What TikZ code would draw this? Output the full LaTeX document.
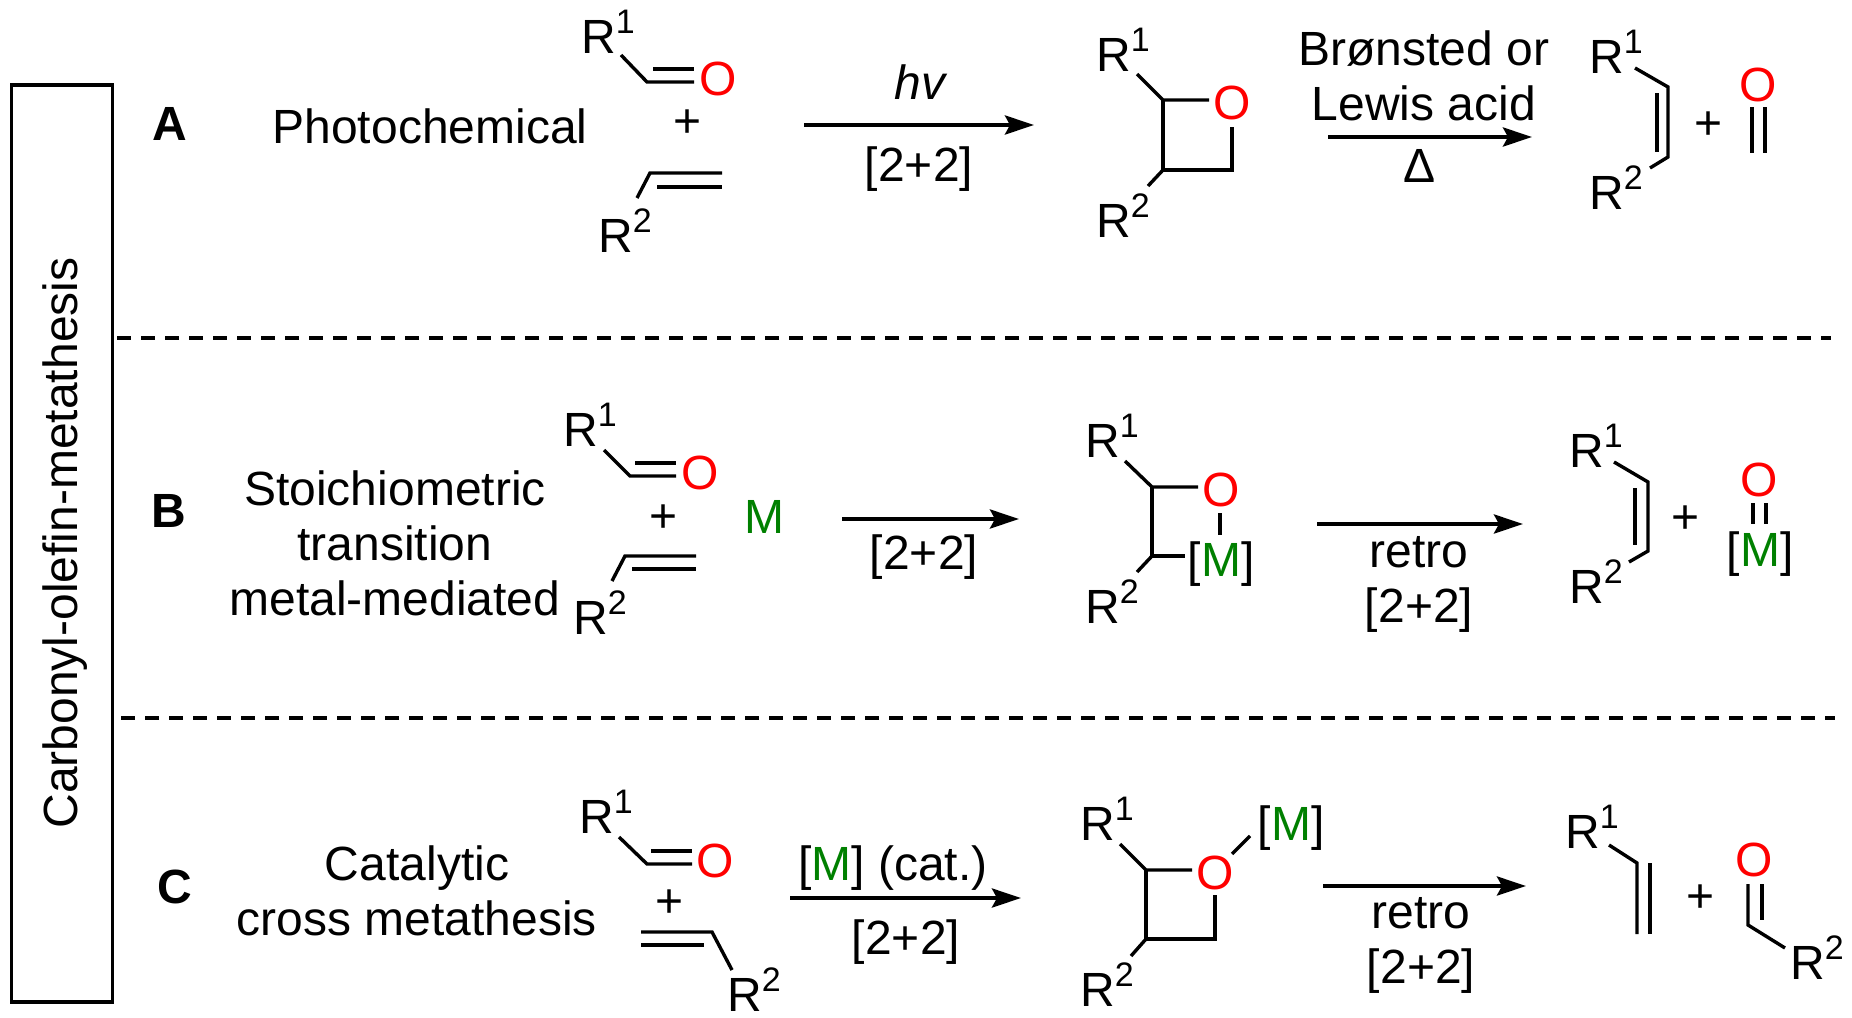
\documentclass[tikz,border=0pt]{standalone}
\usepackage{fontspec}
\setmainfont{Liberation Sans}
\usetikzlibrary{arrows.meta}
\definecolor{oxred}{RGB}{255,0,0}
\definecolor{mgreen}{RGB}{0,128,0}
\newcommand{\Rg}[1]{R\raisebox{19.5pt}{\fontsize{34}{34}\selectfont #1}}
\newcommand{\Mg}{{[}\textcolor{mgreen}{M}{]}}
\newcommand{\cyc}{{[}2+2{]}}

\begin{document}
\begin{tikzpicture}[
    x=1pt, y=-1pt,
    every node/.style = {inner sep=0pt,
                         font=\fontsize{48}{55}\selectfont},
    txt/.style        = {align=center},
    lab/.style        = {anchor=base},
    rgrp/.style       = {anchor=base west},
    oxy/.style        = {text=oxred},
    tag/.style        = {font=\fontsize{48}{55}\selectfont\bfseries},
    bond/.style       = {line width=3.4pt,
                         line join=miter},
    arr/.style        = {line width=4pt,
                         -{Stealth[length=29pt,width=19pt,inset=5pt]}},
    sep/.style        = {line width=3.2pt,
                         dash pattern=on 14pt off 10pt}
]
\useasboundingbox (0,0) rectangle (1852,1017);

\node (frame) [draw, line width=3.6pt, minimum width=101pt, minimum height=917pt, anchor=north west] at (9.5,83) {};
\node (title) [lab, rotate=90] at (77,543) {Carbonyl-olefin-metathesis};

\coordinate (s1l) at (117,338); \coordinate (s1r) at (1831,338);
\coordinate (s2l) at (121,718); \coordinate (s2r) at (1835,718);
\draw[sep] (s1l) -- (s1r);
\draw[sep] (s2l) -- (s2r);

% row A
\node (atag) [tag] at (170,124) {A};
\node (aname) at (430,126) {Photochemical};
\node (ar1) [rgrp] at (581,53) {\Rg{1}};
\node (ao) [oxy] at (718,79) {O};
\node (aplus) at (688,124) {+};
\node (ar2) [rgrp] at (598,252) {\Rg{2}};
\coordinate (aa) at (621,55); \coordinate (ab) at (647,82); \coordinate (ac) at (694,82);
\coordinate (ad) at (653,69); \coordinate (ae) at (694,69);
\draw[bond] (aa) -- (ab) -- (ac);
\draw[bond] (ad) -- (ae);
\coordinate (af) at (637,198); \coordinate (ag) at (650,173); \coordinate (ah) at (722,173);
\coordinate (ai) at (657,187); \coordinate (aj) at (722,187);
\draw[bond] (af) -- (ag) -- (ah);
\draw[bond] (ai) -- (aj);

\coordinate (ax1) at (804,125); \coordinate (ax2) at (1034,125);
\draw[arr] (ax1) -- (ax2);
\node (ahv) [lab] at (921,99) {\textit{hv}};
\node (acy) [lab] at (919,181) {\cyc};

\node (ar3) [rgrp] at (1096,71) {\Rg{1}};
\node (ar4) [rgrp] at (1096,237) {\Rg{2}};
\node (ao2) [oxy] at (1232,103) {O};
\coordinate (ak) at (1137,74); \coordinate (al) at (1163,100); \coordinate (am) at (1209,100);
\coordinate (an) at (1163,170); \coordinate (ap) at (1232,170); \coordinate (aq) at (1232,127);
\coordinate (ar) at (1148,186);
\draw[bond] (ak) -- (al) -- (am);
\draw[bond] (al) -- (an) -- (ap) -- (aq);
\draw[bond] (an) -- (ar);

\node (acid) [txt] at (1424,76) {Brønsted or\\Lewis acid};
\coordinate (ay1) at (1328,137); \coordinate (ay2) at (1532,137);
\draw[arr] (ay1) -- (ay2);
\node (aheat) [lab] at (1420,182) {Δ};

\node (ar5) [rgrp] at (1589,73) {\Rg{1}};
\node (ar6) [rgrp] at (1589,209) {\Rg{2}};
\coordinate (as) at (1635,68); \coordinate (at) at (1668,87); \coordinate (au) at (1668,157);
\coordinate (av) at (1650,168); \coordinate (aw) at (1657,93); \coordinate (az) at (1657,152);
\draw[bond] (as) -- (at) -- (au) -- (av);
\draw[bond] (aw) -- (az);
\node (aplus2) at (1708,126) {+};
\node (ao3) [oxy] at (1758,85) {O};
\coordinate (ba1) at (1752,107); \coordinate (ba2) at (1752,153);
\coordinate (ba3) at (1765,107); \coordinate (ba4) at (1765,153);
\draw[bond] (ba1) -- (ba2);
\draw[bond] (ba3) -- (ba4);

% row B
\node (btag) [tag] at (169,511) {B};
\node (bname) [txt] at (395,543) {Stoichiometric\\transition\\metal-mediated};
\node (br1) [rgrp] at (563,446) {\Rg{1}};
\node (bo) [oxy] at (700,473) {O};
\node (bplus) at (664,519) {+};
\node (bm) [lab, text=mgreen] at (764,533) {M};
\node (br2) [rgrp] at (573,634) {\Rg{2}};
\coordinate (bb) at (604,450); \coordinate (bc) at (630,476); \coordinate (bd) at (676,476);
\coordinate (be) at (635,463); \coordinate (bf) at (676,463);
\draw[bond] (bb) -- (bc) -- (bd);
\draw[bond] (be) -- (bf);
\coordinate (bg) at (612,581); \coordinate (bh) at (625,556); \coordinate (bi) at (696,556);
\coordinate (bj) at (632,569); \coordinate (bk) at (696,569);
\draw[bond] (bg) -- (bh) -- (bi);
\draw[bond] (bj) -- (bk);

\coordinate (bx1) at (842,519); \coordinate (bx2) at (1019,519);
\draw[arr] (bx1) -- (bx2);
\node (bcy) [lab] at (924,569) {\cyc};

\node (br3) [rgrp] at (1085,457) {\Rg{1}};
\node (br4) [rgrp] at (1085,623) {\Rg{2}};
\node (bo2) [oxy] at (1221,490) {O};
\node (bm2) [lab] at (1221,576) {\Mg};
\coordinate (bl) at (1125,461); \coordinate (bn) at (1152,487); \coordinate (bp) at (1198,487);
\coordinate (bq) at (1152,556); \coordinate (br) at (1185,556); \coordinate (bs) at (1137,572);
\coordinate (bt) at (1220,513); \coordinate (bu) at (1220,535);
\draw[bond] (bl) -- (bn) -- (bp);
\draw[bond] (bn) -- (bq) -- (br);
\draw[bond] (bq) -- (bs);
\draw[bond] (bt) -- (bu);

\coordinate (by1) at (1317,524); \coordinate (by2) at (1523,524);
\draw[arr] (by1) -- (by2);
\node (bretro) [txt] at (1419,584) {retro\\\cyc};

\node (br5) [rgrp] at (1569,467) {\Rg{1}};
\node (br6) [rgrp] at (1569,603) {\Rg{2}};
\coordinate (bv) at (1614,462); \coordinate (bw) at (1648,482); \coordinate (bz) at (1648,551);
\coordinate (ca) at (1629,562); \coordinate (cb) at (1635,488); \coordinate (cd) at (1635,545);
\draw[bond] (bv) -- (bw) -- (bz) -- (ca);
\draw[bond] (cb) -- (cd);
\node (bplus2) at (1685,520) {+};
\node (bo3) [oxy] at (1759,480) {O};
\node (bm3) [lab] at (1760,566) {\Mg};
\coordinate (ce) at (1753,503); \coordinate (cf) at (1753,524);
\coordinate (cg) at (1766,503); \coordinate (ch) at (1766,524);
\draw[bond] (ce) -- (cf);
\draw[bond] (cg) -- (ch);

% row C
\node (ctag) [tag] at (175,887) {C};
\node (cname) [txt] at (417,891) {Catalytic\\cross metathesis};
\node (cr1) [rgrp] at (579,833) {\Rg{1}};
\node (co) [oxy] at (715,861) {O};
\node (cplus) at (670,904) {+};
\node (cr2) [rgrp] at (727,1011) {\Rg{2}};
\coordinate (ci) at (619,837); \coordinate (cj) at (647,864); \coordinate (ck) at (692,864);
\coordinate (cl) at (651,851); \coordinate (cm) at (692,851);
\draw[bond] (ci) -- (cj) -- (ck);
\draw[bond] (cl) -- (cm);
\coordinate (cn) at (641,932); \coordinate (cp) at (712,932); \coordinate (cq) at (732,970);
\coordinate (cr) at (641,945); \coordinate (cs) at (704,945);
\draw[bond] (cn) -- (cp) -- (cq);
\draw[bond] (cr) -- (cs);

\coordinate (cx1) at (790,898); \coordinate (cx2) at (1021,898);
\draw[arr] (cx1) -- (cx2);
\node (ccat) [lab] at (893,880) {\Mg{} (cat.)};
\node (ccy) [lab] at (906,954) {\cyc};

\node (cr3) [rgrp] at (1080,840) {\Rg{1}};
\node (cr4) [rgrp] at (1080,1006) {\Rg{2}};
\node (co2) [oxy] at (1215,873) {O};
\node (cm2) [lab] at (1291,840) {\Mg};
\coordinate (ct) at (1120,844); \coordinate (cu) at (1146,870); \coordinate (cv) at (1192,870);
\coordinate (cw) at (1146,939); \coordinate (cz) at (1215,939); \coordinate (da) at (1215,895);
\coordinate (db) at (1131,956); \coordinate (dc) at (1232,854); \coordinate (dd) at (1250,836);
\draw[bond] (ct) -- (cu) -- (cv);
\draw[bond] (cu) -- (cw) -- (cz) -- (da);
\draw[bond] (cw) -- (db);
\draw[bond] (dc) -- (dd);

\coordinate (cy1) at (1323,886); \coordinate (cy2) at (1526,886);
\draw[arr] (cy1) -- (cy2);
\node (cretro) [txt] at (1421,945) {retro\\\cyc};

\node (cr5) [rgrp] at (1565,848) {\Rg{1}};
\node (cr6) [rgrp] at (1790,979) {\Rg{2}};
\coordinate (de) at (1609,845); \coordinate (df) at (1637,863); \coordinate (dg) at (1637,934);
\coordinate (dh) at (1650,863); \coordinate (di) at (1650,934);
\draw[bond] (de) -- (df) -- (dg);
\draw[bond] (dh) -- (di);
\node (cplus2) at (1700,899) {+};
\node (co3) [oxy] at (1754,860) {O};
\coordinate (dj) at (1748,884); \coordinate (dk) at (1748,925); \coordinate (dl) at (1785,948);
\coordinate (dm) at (1762,884); \coordinate (dn) at (1762,920);
\draw[bond] (dj) -- (dk) -- (dl);
\draw[bond] (dm) -- (dn);

\end{tikzpicture}
\end{document}
